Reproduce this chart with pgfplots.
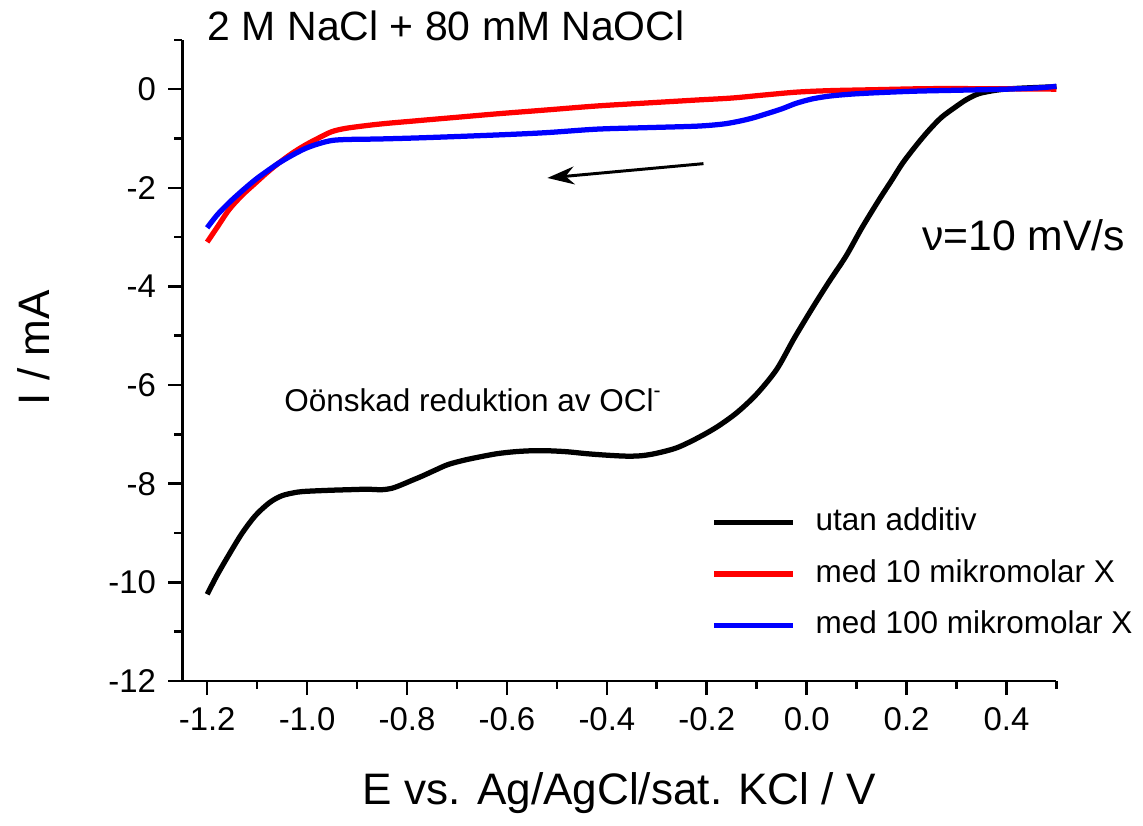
\documentclass[border=0pt]{standalone}
\usepackage{fontspec}
\setmainfont{Liberation Sans}
\usepackage{pgfplots}
\pgfplotsset{compat=1.18}
\usetikzlibrary{arrows.meta}

\begin{document}
\begin{tikzpicture}
\begin{axis}[
    scale only axis,
    width=8.78cm, height=6.44cm,
    xmin=-1.25, xmax=0.5, ymin=-12, ymax=1,
    axis x line*=bottom, axis y line*=left,
    axis line style={line width=0.75pt, -},
    tick align=outside,
    xtick={-1.2,-1,-0.8,-0.6,-0.4,-0.2,0,0.2,0.4},
    minor xtick={-1.1,-0.9,-0.7,-0.5,-0.3,-0.1,0.1,0.3,0.5},
    ytick={-12,-10,-8,-6,-4,-2,0},
    minor ytick={-11,-9,-7,-5,-3,-1,1},
    major tick length=0.14cm, minor tick length=0.08cm,
    every tick/.style={black, line width=0.75pt},
    xticklabel style={/pgf/number format/.cd, fixed, fixed zerofill, precision=1, assume math mode=true},
    yticklabel style={/pgf/number format/assume math mode=true},
    tick label style={font=\fontsize{9.4}{11}\selectfont},
    xlabel={E vs. Ag/AgCl/sat. KCl / V},
    ylabel={I / mA},
    label style={font=\fontsize{12.6}{15}\selectfont},
    xlabel style={at={(axis description cs:0.5,-0.175)}, anchor=center},
    ylabel style={at={(axis description cs:-0.170,0.52)}, anchor=center},
    clip=false,
    legend cell align=left,
    legend style={draw=none, fill=none, at={(axis description cs:0.593,0.283)}, anchor=north west,
        font=\fontsize{9}{11}\selectfont, row sep=0.22cm, column sep=0.2cm,
        nodes={inner sep=0pt, text height=0.23cm, text depth=0.07cm}},
    legend image code/.code={\draw[#1, line width=1.5pt] (0cm,0cm) -- (0.79cm,0cm);},
]
% utan additiv
\addplot[black, line width=1.5pt, smooth] table {
-1.2 -10.24
-1.18 -9.85
-1.156 -9.43
-1.13 -9.0
-1.103 -8.64
-1.075 -8.38
-1.05 -8.24
-1.02 -8.17
-0.997 -8.15
-0.95 -8.13
-0.917 -8.12
-0.88 -8.11
-0.851 -8.12
-0.83 -8.09
-0.811 -8.02
-0.79 -7.93
-0.771 -7.85
-0.745 -7.73
-0.718 -7.61
-0.685 -7.52
-0.652 -7.45
-0.62 -7.39
-0.585 -7.35
-0.55 -7.33
-0.519 -7.33
-0.48 -7.35
-0.44 -7.39
-0.40 -7.42
-0.36 -7.44
-0.33 -7.43
-0.30 -7.38
-0.26 -7.27
-0.22 -7.08
-0.18 -6.85
-0.14 -6.56
-0.10 -6.18
-0.06 -5.68
-0.025 -5.05
0.0125 -4.42
0.045 -3.9
0.079 -3.38
0.11 -2.82
0.145 -2.24
0.17 -1.85
0.192 -1.50
0.22 -1.13
0.245 -0.83
0.27 -0.57
0.298 -0.36
0.32 -0.21
0.345 -0.09
0.38 -0.02
0.411 0.01
0.45 0.03
0.5 0.05
};
\addlegendentry{utan additiv}
% med 10 mikromolar X
\addplot[red, line width=1.5pt, smooth] table {
-1.2 -3.10
-1.18 -2.80
-1.156 -2.44
-1.13 -2.15
-1.103 -1.90
-1.08 -1.69
-1.057 -1.50
-1.03 -1.30
-1.003 -1.13
-0.975 -0.98
-0.95 -0.86
-0.92 -0.79
-0.857 -0.71
-0.78 -0.64
-0.70 -0.57
-0.62 -0.50
-0.519 -0.42
-0.419 -0.34
-0.32 -0.28
-0.22 -0.22
-0.15 -0.18
-0.087 -0.12
-0.02 -0.06
0.046 -0.03
0.14 -0.01
0.24 0.01
0.35 0.01
0.5 0.0
};
\addlegendentry{med 10 mikromolar X}
% med 100 mikromolar X
\addplot[blue, line width=1.5pt, smooth] table {
-1.2 -2.81
-1.18 -2.55
-1.156 -2.30
-1.13 -2.06
-1.103 -1.83
-1.08 -1.66
-1.057 -1.50
-1.03 -1.34
-1.003 -1.20
-0.975 -1.10
-0.95 -1.04
-0.92 -1.02
-0.857 -1.01
-0.784 -0.99
-0.70 -0.96
-0.60 -0.92
-0.519 -0.88
-0.419 -0.81
-0.32 -0.78
-0.22 -0.75
-0.17 -0.71
-0.14 -0.66
-0.11 -0.59
-0.087 -0.52
-0.05 -0.40
-0.022 -0.29
0.01 -0.20
0.046 -0.14
0.09 -0.10
0.145 -0.07
0.22 -0.04
0.311 -0.02
0.40 0.0
0.47 0.03
0.5 0.06
};
\addlegendentry{med 100 mikromolar X}

\node[anchor=base west, inner sep=0pt, font=\fontsize{11.7}{14}\selectfont] at (axis cs:-1.2,0.99) {2 M NaCl + 80 mM NaOCl};
\node[anchor=base west, inner sep=0pt, font=\fontsize{12.2}{14}\selectfont] at (axis cs:0.23,-3.28) {ν=10 mV/s};
\node[anchor=base west, inner sep=0pt, font=\fontsize{9}{11}\selectfont] at (axis cs:-1.047,-6.53) {Oönskad reduktion av OCl\textsuperscript{-}};
\draw[-{Stealth[length=0.27cm, width=0.18cm]}, line width=0.85pt] (axis cs:-0.2066,-1.51) -- (axis cs:-0.519,-1.80);

\path (axis description cs:-0.2084,-0.2065) rectangle (axis description cs:1.0934,1.0621);
\end{axis}
\end{tikzpicture}
\end{document}
